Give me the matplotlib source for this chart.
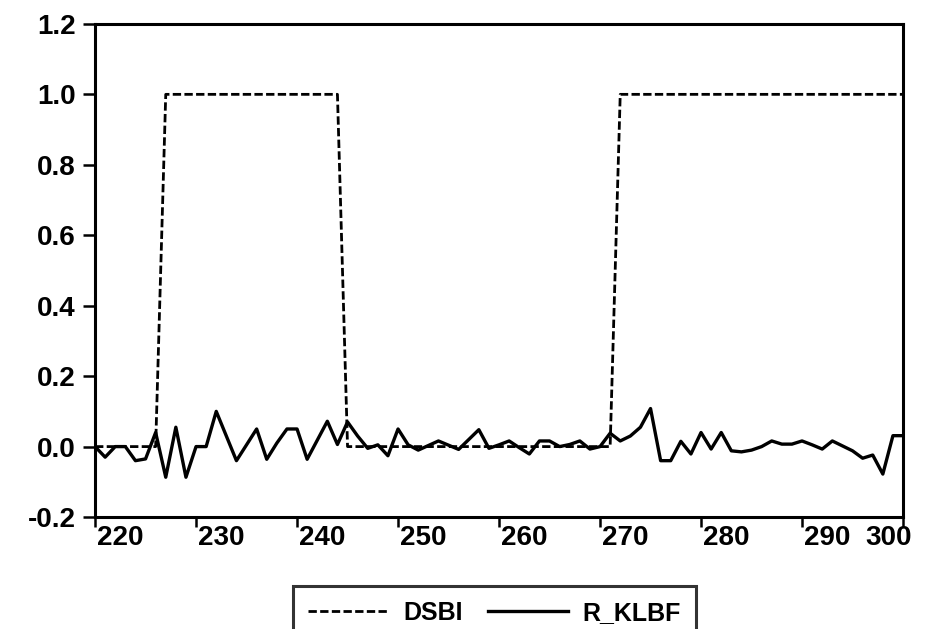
import matplotlib
matplotlib.use("Agg")
import matplotlib.pyplot as plt
import numpy as np

plt.rcParams['font.family'] = ['Liberation Sans', 'DejaVu Sans']
plt.rcParams['font.weight'] = 'bold'

# observation index
obs = np.arange(220, 301)

# dummy series: 1 inside the two marked periods
dsbi = [0] * 7 + [1] * 18 + [0] * 27 + [1] * 29

# return series
r_klbf = [
    0.00, -0.03, 0.00, 0.00, -0.04, -0.035, 0.04, -0.087, 0.055, -0.087,
    0.00, 0.00, 0.10, 0.03, -0.04, 0.005, 0.05, -0.036, 0.01, 0.05,
    0.05, -0.036, 0.018, 0.072, 0.006, 0.07, 0.03, -0.005, 0.005, -0.026,
    0.05, 0.005, -0.01, 0.003, 0.016, 0.004, -0.008, 0.02, 0.048, -0.005,
    0.005, 0.016, -0.003, -0.021, 0.016, 0.016, 0.0, 0.006, 0.016, -0.007,
    0.0, 0.038, 0.016, 0.03, 0.055, 0.108, -0.04, -0.04, 0.015, -0.021,
    0.04, -0.007, 0.04, -0.012, -0.015, -0.01, 0.0, 0.016, 0.007, 0.007,
    0.016, 0.005, -0.007, 0.016, 0.002, -0.012, -0.033, -0.024, -0.078, 0.031,
    0.031,
]

xticks = np.arange(220, 301, 10)
yticks = [-0.2, 0.0, 0.2, 0.4, 0.6, 0.8, 1.0, 1.2]

fig = plt.figure(figsize=(9.3, 6.29), dpi=100)
ax = fig.add_axes([0.1022, 0.178, 0.8688, 0.784])

ax.plot(obs, dsbi, color='black', lw=2.0, ls=(0, (3, 1.2)), label='DSBI')
ax.plot(obs, r_klbf, color='black', lw=2.4, label='R_KLBF')

ax.set_xlim(220, 300)
ax.set_ylim(-0.2, 1.2)
ax.set_yticks(yticks)
ax.set_yticklabels([f'{v:.1f}' for v in yticks])
ax.set_xticks(xticks)
ax.set_xticklabels([])

for s in ax.spines.values():
    s.set_linewidth(2.2)
ax.tick_params(axis='y', direction='out', length=9, width=1.8, pad=5, labelsize=20)
ax.tick_params(axis='x', direction='out', length=7, width=1.8)

# x labels sit to the right of their tick, last one pulled inside
for t in xticks:
    if t == 300:
        ax.text(t + 0.9, -0.222, f'{t}', ha='right', va='top', fontsize=20)
    else:
        ax.text(t + 0.2, -0.222, f'{t}', ha='left', va='top', fontsize=20)

leg = fig.legend(loc='upper center', bbox_to_anchor=(0.532, 0.069), ncol=2,
                 fontsize=18, frameon=True, fancybox=False, edgecolor='black',
                 handlelength=3.2, handletextpad=0.6, columnspacing=1.0,
                 borderpad=0.6, borderaxespad=0)
leg.get_frame().set_linewidth(2.2)

fig.savefig('out.png', dpi=100)
